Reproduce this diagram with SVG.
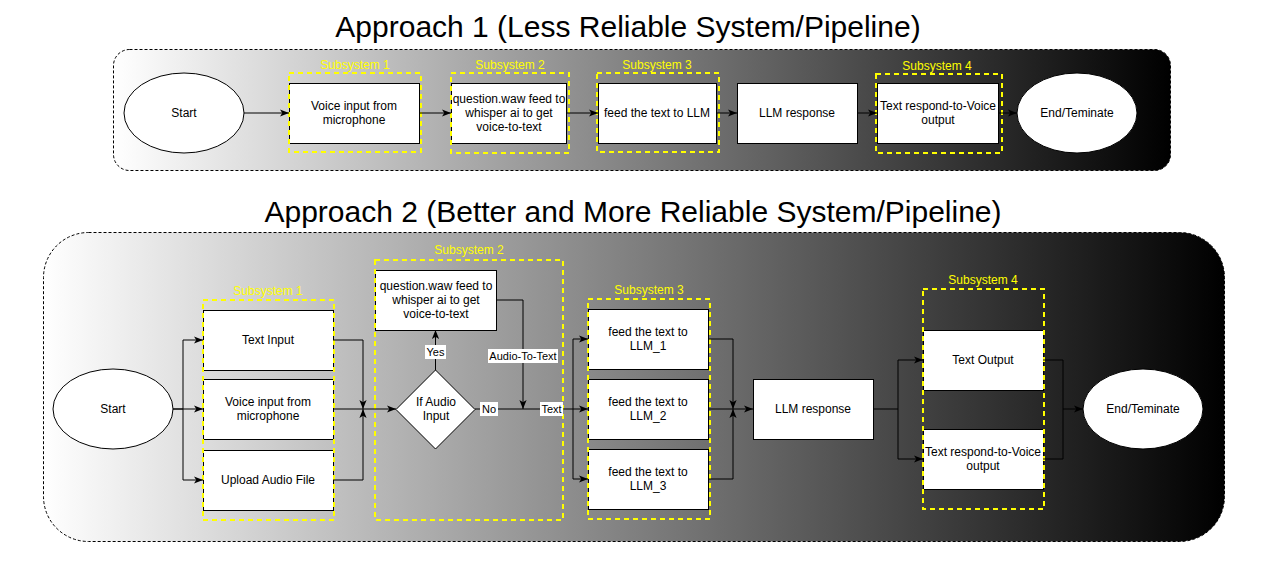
<svg xmlns="http://www.w3.org/2000/svg" width="1261" height="571" viewBox="0 0 1261 571">
<defs>
<linearGradient id="bg" x1="0" y1="0" x2="1" y2="0">
<stop offset="0" stop-color="#ffffff"/>
<stop offset="1" stop-color="#000000"/>
</linearGradient>
<marker id="arr" viewBox="0 0 10 8" refX="10" refY="4" markerWidth="9" markerHeight="7.5" orient="auto" markerUnits="userSpaceOnUse">
<path d="M0,0 L10,4 L0,8 L2.5,4 Z" fill="#000"/>
</marker>
</defs>
<style>
.title{font-family:"Liberation Sans",Arial,sans-serif;font-size:30px;fill:#000;text-anchor:middle}
.t{font-family:"Liberation Sans",Arial,sans-serif;font-size:12px;fill:#000;text-anchor:middle;dominant-baseline:central}
.sub{font-family:"Liberation Sans",Arial,sans-serif;font-size:12px;fill:#ffff00;text-anchor:middle;dominant-baseline:central}
.el{font-family:"Liberation Sans",Arial,sans-serif;font-size:11px;fill:#000;text-anchor:middle;dominant-baseline:central}
.box{fill:#fff;stroke:#000;stroke-width:1}
.ys{fill:none;stroke:#ffff00;stroke-width:2;stroke-dasharray:5 4}
.cont{stroke:#000;stroke-width:1;stroke-dasharray:3 2}
.c{fill:none;stroke:#000;stroke-width:1}
.ca{fill:none;stroke:#000;stroke-width:1;marker-end:url(#arr)}
.lb{fill:#fff}
</style>

<text class="title" x="628" y="37">Approach 1 (Less Reliable System/Pipeline)</text>
<text class="title" x="633" y="222">Approach 2 (Better and More Reliable System/Pipeline)</text>

<g id="container1"><rect class="cont" x="113.5" y="49.5" width="1057" height="121" rx="16" fill="url(#bg)"/></g>
<g id="container2"><rect class="cont" x="43.5" y="232.5" width="1181" height="309" rx="45" fill="url(#bg)"/></g>

<!-- Approach 1 nodes -->
<g id="a1-start"><ellipse class="box" cx="184" cy="113" rx="60" ry="40"/><text class="t" x="184" y="113">Start</text></g>
<g id="a1-voice"><rect class="box" x="289.5" y="83.5" width="130" height="60"/><text class="t" x="354" y="106">Voice input from</text><text class="t" x="354" y="120">microphone</text></g>
<g id="a1-whisper"><rect class="box" x="451.5" y="83.5" width="115" height="60"/><text class="t" x="509" y="99">question.waw feed to</text><text class="t" x="509" y="113">whisper ai to get</text><text class="t" x="509" y="127">voice-to-text</text></g>
<g id="a1-feed"><rect class="box" x="598.5" y="83.5" width="118" height="60"/><text class="t" x="657" y="113">feed the text to LLM</text></g>
<g id="a1-llm"><rect class="box" x="737.5" y="83.5" width="120" height="60"/><text class="t" x="797" y="113">LLM response</text></g>
<g id="a1-tts"><rect class="box" x="877.5" y="83.5" width="121" height="60"/><text class="t" x="938" y="106">Text respond-to-Voice</text><text class="t" x="938" y="120">output</text></g>
<g id="a1-end"><ellipse class="box" cx="1077" cy="113" rx="60" ry="40"/><text class="t" x="1077" y="113">End/Teminate</text></g>

<g id="a1-subsystems">
<rect class="ys" x="289" y="73" width="132" height="79"/><text class="sub" x="355" y="65">Subsystem 1</text>
<rect class="ys" x="451" y="73" width="118" height="80"/><text class="sub" x="510" y="65">Subsystem 2</text>
<rect class="ys" x="597" y="73" width="122" height="79"/><text class="sub" x="657" y="65">Subsystem 3</text>
<rect class="ys" x="876" y="74" width="126" height="79"/><text class="sub" x="937" y="66">Subsystem 4</text>
</g>

<g id="a1-connectors">
<path class="ca" d="M244,113 H289"/>
<path class="ca" d="M419,113 H451"/>
<path class="ca" d="M566,113 H598"/>
<path class="ca" d="M716,113 H737"/>
<path class="ca" d="M857,113 H877"/>
<path class="ca" d="M998,113 H1017"/>
</g>

<!-- Approach 2 nodes -->
<g id="a2-start"><ellipse class="box" cx="113" cy="409" rx="60" ry="40"/><text class="t" x="113" y="409">Start</text></g>
<g id="a2-text"><rect class="box" x="203.5" y="310.5" width="130" height="60"/><text class="t" x="268" y="340">Text Input</text></g>
<g id="a2-voice"><rect class="box" x="203.5" y="379.5" width="130" height="60"/><text class="t" x="268" y="402">Voice input from</text><text class="t" x="268" y="416">microphone</text></g>
<g id="a2-upload"><rect class="box" x="203.5" y="450.5" width="130" height="60"/><text class="t" x="268" y="480">Upload Audio File</text></g>
<g id="a2-whisper"><rect class="box" x="375.5" y="270.5" width="121" height="60"/><text class="t" x="436" y="286">question.waw feed to</text><text class="t" x="436" y="300">whisper ai to get</text><text class="t" x="436" y="314">voice-to-text</text></g>
<g id="a2-decision"><path class="box" d="M435.5,370 L475,409.5 L435.5,449 L396,409.5 Z"/><text class="t" x="436" y="402">If Audio</text><text class="t" x="436" y="416">Input</text></g>
<g id="a2-llm1"><rect class="box" x="588.5" y="309.5" width="120" height="60"/><text class="t" x="648" y="332">feed the text to</text><text class="t" x="648" y="346">LLM_1</text></g>
<g id="a2-llm2"><rect class="box" x="588.5" y="379.5" width="120" height="60"/><text class="t" x="648" y="402">feed the text to</text><text class="t" x="648" y="416">LLM_2</text></g>
<g id="a2-llm3"><rect class="box" x="588.5" y="449.5" width="120" height="60"/><text class="t" x="648" y="472">feed the text to</text><text class="t" x="648" y="486">LLM_3</text></g>
<g id="a2-resp"><rect class="box" x="753.5" y="379.5" width="120" height="60"/><text class="t" x="813" y="409">LLM response</text></g>
<g id="a2-textout"><rect class="box" x="923.5" y="330.5" width="120" height="60"/><text class="t" x="983" y="360">Text Output</text></g>
<g id="a2-tts"><rect class="box" x="923.5" y="429.5" width="120" height="60"/><text class="t" x="983" y="452">Text respond-to-Voice</text><text class="t" x="983" y="466">output</text></g>
<g id="a2-end"><ellipse class="box" cx="1143" cy="409" rx="60" ry="40"/><text class="t" x="1143" y="409">End/Teminate</text></g>

<g id="a2-subsystems">
<rect class="ys" x="203" y="300" width="131" height="220"/><text class="sub" x="268" y="291">Subsystem 1</text>
<rect class="ys" x="375" y="260" width="188" height="260"/><text class="sub" x="469" y="250">Subsystem 2</text>
<rect class="ys" x="588" y="299" width="122" height="220"/><text class="sub" x="649" y="290">Subsystem 3</text>
<rect class="ys" x="923" y="289" width="121" height="220"/><text class="sub" x="983" y="280">Subsystem 4</text>
</g>

<g id="a2-connectors">
<path class="ca" d="M173,409 H183 V340 H203"/>
<path class="ca" d="M173,409 H203"/>
<path class="ca" d="M183,409 V480 H203"/>
<path class="ca" d="M333,340 H363 V409"/>
<path class="ca" d="M333,480 H363 V409"/>
<path class="ca" d="M333,409 H396"/>
<path class="ca" d="M435.5,370 V330"/>
<path class="ca" d="M496,300 H523 V409"/>
<path class="c" d="M475,409 H573"/>
<path class="ca" d="M573,409 V339 H588"/>
<path class="ca" d="M573,409 H588"/>
<path class="ca" d="M573,409 V479 H588"/>
<path class="ca" d="M708,339 H733 V409"/>
<path class="ca" d="M708,479 H733 V409"/>
<path class="ca" d="M708,409 H753"/>
<path class="ca" d="M873,409 H898 V360 H923"/>
<path class="ca" d="M898,409 V459 H923"/>
<path class="c" d="M1043,360 H1063 V459 H1043"/>
<path class="ca" d="M1063,409 H1083"/>
<rect class="lb" x="425" y="345" width="21" height="14"/><text class="el" x="435.5" y="352">Yes</text>
<rect class="lb" x="488" y="349" width="70" height="14"/><text class="el" x="523" y="356">Audio-To-Text</text>
<rect class="lb" x="480" y="402" width="18" height="14"/><text class="el" x="489" y="409">No</text>
<rect class="lb" x="540" y="402" width="23" height="14"/><text class="el" x="551.5" y="409">Text</text>
</g>
</svg>
